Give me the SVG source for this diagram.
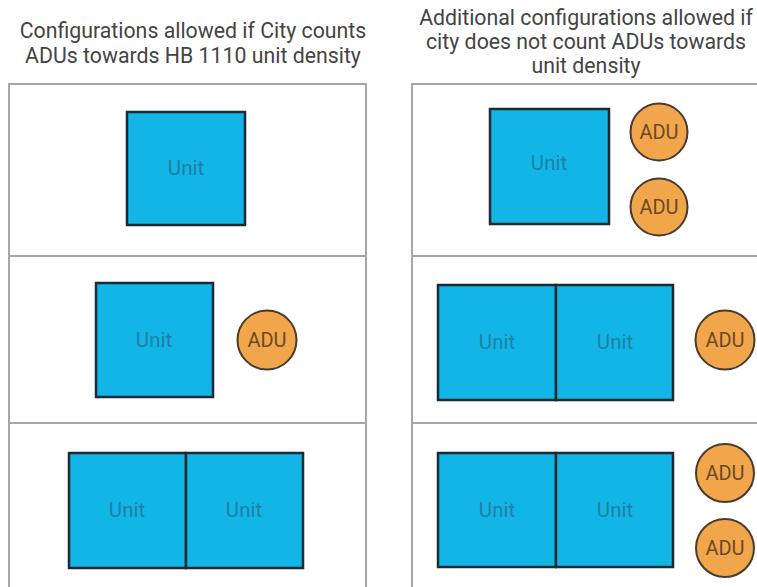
<svg xmlns="http://www.w3.org/2000/svg" width="757" height="587" viewBox="0 0 757 587">
<style>
.title{font-family:Roboto,"Liberation Sans",sans-serif;font-size:21.3px;fill:#444444;text-anchor:middle}
.panel{fill:#ffffff;stroke:#a6a6a6;stroke-width:2}
.div{stroke:#a6a6a6;stroke-width:2}
.unit{fill:#12b6e6;stroke:#1b2a33;stroke-width:2.5}
.ulab{font-family:Roboto,"Liberation Sans",sans-serif;font-size:20.5px;fill:#1f7ea6;text-anchor:middle;dominant-baseline:central}
.adu{fill:#f2a64c;stroke:#4a3a2c;stroke-width:2}
.alab{font-family:Roboto,"Liberation Sans",sans-serif;font-size:20px;fill:#6a4a22;text-anchor:middle;dominant-baseline:central}
</style>
<rect width="757" height="587" fill="#ffffff"/>
<g id="title-left">
<text class="title" x="193" y="38">Configurations allowed if City counts</text>
<text class="title" x="193" y="63">ADUs towards HB 1110 unit density</text>
</g>
<g id="title-right">
<text class="title" x="586" y="25">Additional configurations allowed if</text>
<text class="title" x="586" y="49">city does not count ADUs towards</text>
<text class="title" x="586" y="73">unit density</text>
</g>
<g id="panel-left">
<rect class="panel" x="9" y="84" width="357" height="520"/>
<line class="div" x1="9" y1="256" x2="366" y2="256"/>
<line class="div" x1="9" y1="423" x2="366" y2="423"/>
</g>
<g id="panel-right">
<rect class="panel" x="412" y="84" width="360" height="520"/>
<line class="div" x1="412" y1="256" x2="772" y2="256"/>
<line class="div" x1="412" y1="423" x2="772" y2="423"/>
</g>
<g id="L1-unit"><rect class="unit" x="127" y="112" width="118" height="113"/><text class="ulab" x="186" y="168">Unit</text></g>
<g id="L2-unit"><rect class="unit" x="96" y="283" width="117" height="114"/><text class="ulab" x="154" y="340">Unit</text></g>
<g id="L2-adu"><circle class="adu" cx="267" cy="340" r="29.5"/><text class="alab" x="267" y="340">ADU</text></g>
<g id="L3-unit1"><rect class="unit" x="69" y="453" width="117" height="115"/><text class="ulab" x="127" y="510">Unit</text></g>
<g id="L3-unit2"><rect class="unit" x="186" y="453" width="117" height="115"/><text class="ulab" x="244" y="510">Unit</text></g>
<g id="R1-unit"><rect class="unit" x="490" y="109" width="119" height="115"/><text class="ulab" x="549" y="163">Unit</text></g>
<g id="R1-adu1"><circle class="adu" cx="659" cy="132" r="28.5"/><text class="alab" x="659" y="132">ADU</text></g>
<g id="R1-adu2"><circle class="adu" cx="659" cy="207" r="28.5"/><text class="alab" x="659" y="207">ADU</text></g>
<g id="R2-unit1"><rect class="unit" x="438" y="285" width="118" height="115"/><text class="ulab" x="497" y="342">Unit</text></g>
<g id="R2-unit2"><rect class="unit" x="556" y="285" width="117" height="115"/><text class="ulab" x="615" y="342">Unit</text></g>
<g id="R2-adu"><circle class="adu" cx="725" cy="340" r="29.5"/><text class="alab" x="725" y="340">ADU</text></g>
<g id="R3-unit1"><rect class="unit" x="438" y="453" width="118" height="114"/><text class="ulab" x="497" y="510">Unit</text></g>
<g id="R3-unit2"><rect class="unit" x="556" y="453" width="117" height="114"/><text class="ulab" x="615" y="510">Unit</text></g>
<g id="R3-adu1"><circle class="adu" cx="725" cy="473" r="29"/><text class="alab" x="725" y="473">ADU</text></g>
<g id="R3-adu2"><circle class="adu" cx="725" cy="548" r="29"/><text class="alab" x="725" y="548">ADU</text></g>
<g id="connectors"></g>
</svg>
